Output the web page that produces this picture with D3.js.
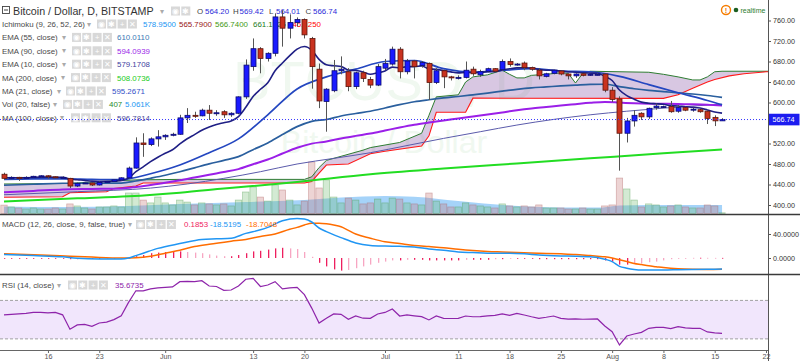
<!DOCTYPE html>
<html>
<head>
<meta charset="utf-8">
<script src="https://cdn.jsdelivr.net/npm/d3@7"></script>
<style>
  body { margin: 0; background: #fff; }
  svg { display: block; font-family: Arial, "Liberation Sans", sans-serif; }
</style>
</head>
<body>
<div id="chart"></div>
<script>
// BTC/USD daily, Bitstamp, 2016-05-10 .. 2016-08-16
const open = [460,452,454,452,454,456,457,455,453,452, 437,442,443,439,444,446,449,453,472,521,
  518,529,533,536,538,570,575,574,585,579, 582,576,579,611,670,705,686,696,767,745,
  756,762,725,665,602,623,662,660,631,658, 645,634,667,675,704,660,681,672,676,639,
  662,650,649,649,665,654,661,666,664,680, 674,677,668,663,651,657,661.5,655.6,652,656,
  655,655,655.6,624,607,540,564,579,572,590, 592,592,583,590,586,586,583,571,564.2];
const high = [463,456,455,456,457,458,458,456,456,453, 444,444,444,446,447,450,454,475,532,540,
  532,546,538,541,576,589,582,588,595,585, 585,581,612,684,725,708,698,774,780,772,
  766,764,728,676,628,683,690,667,660,662, 650,675,685,709,708,685,683,681,678,667,
  664,652,653,680,670,664,668,667,684,686, 677,680,670,667,658,664,663,656,657,657,
  656,657,657,630,612,570,585,581,590,598, 594,603,595,592,590,588,585,575,569.42];
const low = [449,450,447,451,453,454,451,452,452,433, 435,441,437,438,443,445,448,452,471,494,
  515,514,527,534,537,560,570,573,566,574, 570,572,577,607,662,657,680,690,709,725,
  748,725,627,589,543,620,655,622,626,640, 628,632,663,672,647,655,647,668,605,636,
  628,643,645,647,652,650,659,659,662,670, 672,663,662,645,649,655,653,645,648,651,
  652,653,620,601,467,522,553,566,568,586, 589,580,580,583,582,580,558,554,564.01];
const close = [452,454,453,454,456,457,455,453,454,437, 442,443,439,444,446,449,453,472,521,518,
  529,533,536,538,570,575,574,585,579,580, 576,579,611,673,705,686,696,767,745,756,
  762,732,670,603,626,662,665,631,658,647, 634,670,676,704,660,681,670,678,639,662,
  650,649,649,663,656,660,666,661,680,674, 675,668,665,652,656,663,655.6,652,655.6,653,
  655,655,624,606,540,564,575,572,588.7,593, 592,582,590,585,587,582,569,564.2,566.74];
// volume, thousands BTC
const volume = [5.0,3.9,3.3,2.7,3.3,2.7,2.7,3.3,2.7,5.7, 4.5,3.3,2.7,3.9,3.9,4.5,3.9,12.2,12.2,8.0,
  6.3,9.8,6.3,5.1,8.0,6.8,5.1,6.3,5.7,5.1, 5.7,4.5,8.0,12.8,15.8,9.8,7.4,17.0,14.0,8.0,
  5.1,7.4,30.7,15.2,20.0,9.8,6.3,9.2,8.0,5.7, 6.3,8.6,6.3,9.2,8.6,6.3,5.7,5.1,12.2,7.4,
  5.7,3.9,3.9,6.3,5.1,4.5,3.9,3.3,5.7,4.5, 3.9,4.5,3.9,5.1,3.3,3.3,3.3,2.7,2.7,3.3,
  2.7,2.7,4.5,5.1,21.1,14.6,8.0,3.9,5.7,5.1, 3.9,4.5,5.1,3.9,3.3,3.3,5.1,4.5,0.4];

// indicator lines, [days since 2016-05-10, value]
const ema10 = [453,453.2,453,453.2,453.7,454.3,454.4,454.1,454.1,450.9, 449.3,448.1,446.5,446.2,446.1,446.7,448,452.4,464.9,474.5,
  484.5,493.3,501.1,507.8,519.1,529.3,537.4,546,552,557.1, 560.5,564,572.5,590.7,611.8,625.8,638.6,662,677.1,691.4,
  704.2,709.3,702.2,684.2,673.7,671.6,670.4,663.3,662.3,659.6, 655.2,657.9,661.3,669.1,667.5,670,670,671.5,665.5,664.8,
  662.2,659.8,657.8,658.7,658.2,658.5,659.9,660.1,663.7,665.8, 667.5,667.7,667.2,664.4,662.9,662.9,661.5,659.8,659.1,657.9,
  657.4,657,651,643,624.3,613.3,606.4,600.7,598.5,597.5, 596.5,593.9,593.2,591.7,590.8,589.1,585.4,581.5,579.2].map((v, i) => [i, v]);
const ma21 = [[0,450],[4,451],[8,451],[12,450],[16,449.5],[20,461],[24,478],[28,502],[32,529],[36,576],[40,626.5],[44,650],
  [48,665],[52,680],[56,682],[60,666],[64,659],[68,662.5],[72,666],[76,661.5],[80,660],[84,651],[88,635],[92,619],[96,604],[98,595.3]];
const ema55 = [[0,438.5],[4,440.5],[8,442.4],[12,442.5],[16,442.8],[18,446.8],[20,452.2],[22,458],[24,464.8],[26,472.5],[28,480.2],
  [30,487],[32,494.3],[34,508],[36,520.9],[38,537.4],[40,552.9],[42,563.3],[44,566.9],[46,573.7],[48,578.6],[50,583],[52,589.3],
  [54,595.8],[56,601.4],[58,605.4],[60,608.9],[62,611.7],[64,615],[66,618.4],[68,622.1],[70,625.7],[72,628.6],[74,630.4],[76,632.4],
  [78,633.9],[80,635.3],[82,635.6],[84,631.1],[86,626.8],[88,623.6],[90,621.4],[92,618.9],[94,616.6],[96,613.7],[98,610]];
const ema90 = [[0,425],[4,427.5],[8,430.2],[12,431.3],[16,432.4],[18,435.2],[20,439.1],[22,443.3],[24,448.1],[26,453.6],[28,459.2],
  [30,464.3],[32,470],[34,479.6],[36,488.8],[38,500.4],[40,511.6],[42,519.8],[44,523.9],[46,529.9],[48,534.9],[50,539.5],[52,545.3],
  [54,551.2],[56,556.6],[58,561],[60,565.1],[62,568.8],[64,572.7],[66,576.6],[68,580.7],[70,584.8],[72,588.3],[74,591.2],[76,594.2],
  [78,596.8],[80,599.3],[82,601],[84,599.8],[86,598.5],[88,597.7],[90,597.5],[92,597],[94,596.5],[96,595.6],[98,594.1]];
const ma100 = [[0,420],[10,426],[20,433],[25,441],[30,452],[35,465],[40,480],[45,491],[50,502],[55,516],[60,530],[65,543],
  [70,556],[75,567],[80,576],[85,583],[90,589],[95,594],[98,596.8]];
const ma200 = [[0,407],[10,413],[17,417],[24,424],[30,432],[40,445],[50,460],[60,471],[70,481],[80,491],[90,501],[98,508.1]];
const senkouA = [[0,441],[9,442],[12,445],[18,449],[24,450],[41,450],[42,455],[43,473],[44,487],[46,495],[49,507],[50,512],[54,522],
  [57,540],[58,575],[59,611],[62,615],[63,640],[64,650],[66,654],[68,663],[69,655],[70,648],[71,648],[72,653],[74,655],[76,658],
  [77,657],[78,638],[79,657],[80,661],[88,659],[90,655],[92,650],[94,644],[95,644],[96,650],[97,660],[98,661],[106,661]];
const senkouB = [[0,415],[8,416],[9,424],[14,426],[15,432],[18,437],[19,443],[41,443],[42,446],[43,462],[44,478],[47,480],[50,500],
  [52,505],[57,515],[58,535],[59,581],[63,581],[64,608.5],[90,608],[92,615],[94,628],[96,640],[97,645],[99,652],[101,656],[104,660],[106,661]];
const volMA = [[0,4.2],[8,3.8],[17,4.5],[24,5.7],[33,6.8],[41,8.0],[46,9.5],[52,10.4],[56,10.0],[62,7.4],[69,4.8],[76,3.6],[81,3.5],
  [84,4.8],[88,5.1],[98,5.06]];

const macd = [[0,6],[4,4],[8,2],[10,-0.5],[13,-1.5],[16,-1.5],[17,0],[18,4],[19,8],[21,16],[24,24],[27,31],[29,32],[31,33],[33,41],
  [35,47],[36,51],[38,62],[40,66],[41,65],[42,60],[43,50],[44,44],[46,34],[48,25],[50,21],[52,20],[54,19.5],[56,18.5],[58,15],[60,13],
  [62,10],[64,9],[66,8],[69,8],[71,7],[73,5],[76,3.5],[78,3],[80,2],[81,1],[82,-2],[83,-6],[84,-14],[85,-17],[86,-19],[87,-20],
  [88,-20],[90,-20],[92,-19.5],[94,-19],[96,-18.8],[98,-18.52]];
const signal = [[0,7],[5,5],[9,3],[12,1.5],[16,0],[18,0.5],[20,3],[22,8],[24,13],[26,19],[28,23],[31,28],[33,31],[35,36],[37,40],
  [39,48],[40,51],[41,55],[42,58],[43,58],[44,57],[45,55],[46,52],[47,46],[48,40],[50,33],[52,27],[54,24],[56,21],[58,19],[60,17],
  [62,14.5],[64,12.5],[66,11],[68,10],[70,9],[73,8],[76,7],[78,6],[80,4],[81,3],[82,2],[83,0],[84,-3],[85,-6],[86,-9],[87,-11],
  [88,-13],[89,-14.5],[90,-16],[92,-18],[94,-18.8],[96,-19],[98,-18.7]];
const histogram = [-1,-1,-1,-1,-1,-1,-1,-1,-1,-2, -2,-1.5,-1.5,-1.5,-1,-1,-0.5,0.5,3,5,
  8,9,10,10,11,10,9,8,6,4, 3,3,5,8,11,12,14,16,17,16,
  15,10,2,-8,-14,-19,-21,-20,-17,-14, -11,-8,-6,-4,-4,-3,-3,-3,-4,-4,
  -4,-4,-4,-3,-3,-3,-3,-2,-2,-1, -1,-1,-1,-2,-2,-2,-2,-2,-2,-2,
  -2,-2,-4,-6,-11,-11,-10,-9,-7,-6, -4,-2,-1,-0.5,0.3,0.4,0.3,0.2,0.2];
const rsi = [55,55.5,56,56.5,57.5,57.6,57,57.5,55,40, 44.5,45,43,46.5,47.5,50,54,68,80,80,
  82,83,83.5,84,89.5,89.8,89.5,90.5,85,84.5, 80.5,80.8,85,92,93,84.5,86,89.5,82,83,
  83.6,76,62,46.5,51.5,55.9,55.5,50.4,53.8,51.5, 51.4,55.9,57.5,61,53.8,55,54,53.1,49.7,53.8,
  51.4,51.2,51.4,53.8,53,53.1,54,54.5,56,54.5, 56.6,54.8,53,51.4,52.5,53.8,51.4,50.6,50.8,50.4,
  50.5,50.7,43.4,37.5,23.7,33,35.1,36.8,41,42, 42,40.6,42.7,41.5,41,41,37.2,36.3,35.67];

const priceTicks = [400, 440, 480, 520, 600, 640, 680, 720, 760];
const macdTicks = [0, 40];
const rsiTicks = [20, 40, 60, 80];
const timeTickDays = ['2016-05-16','2016-05-23','2016-06-01','2016-06-13','2016-06-20','2016-07-01','2016-07-11',
  '2016-07-18','2016-07-25','2016-08-01','2016-08-08','2016-08-15','2016-08-22'];
const timeTickLabels = ['16','23','Jun','13','20','Jul','11','18','25','Aug','8','15','22'];

const studyNames = ['Ichimoku (9, 26, 52, 26)','EMA (55, close)','EMA (90, close)','EMA (10, close)','MA (200, close)',
  'MA (21, close)','Vol (20, false)','MA (100, close)'];
const studyValues = [['578.9500','565.7900','566.7400','661.1725','646.1250'],['610.0110'],['594.0939'],['579.1708'],
  ['508.0736'],['595.2671'],['407','5.061K'],['596.7814']];
const ohlcLabels = ['O','H','L','C'];
const ohlcValues = ['564.20','569.42','564.01','566.74'];
const lastPrice = 566.74;

// ---------- layout ----------
const W = 800, H = 361, plotR = 768;
const svg = d3.select('#chart').append('svg').attr('width', W).attr('height', H);

const day0 = new Date(Date.UTC(2016, 4, 10));
const days = d3.utcDay.range(day0, new Date(Date.UTC(2016, 7, 17)));
const x = d3.scaleUtc()
  .domain([day0, new Date(Date.UTC(2016, 7, 22))])
  .range([4, 766]);
const xAt = i => x(d3.utcDay.offset(day0, i));

const y = d3.scaleLinear().domain([400, 760]).range([205, 20.5]);
const yVol = d3.scaleLinear().domain([0, 30]).range([213.5, 163.1]);
const yMacd = d3.scaleLinear().domain([0, 40]).range([258, 234]);
const yRsi = d3.scaleLinear().domain([20, 80]).range([348.5, 290.8]);

const defs = svg.append('defs');
const clip = (id, x0, y0, w, h) => defs.append('clipPath').attr('id', id)
  .append('rect').attr('x', x0).attr('y', y0).attr('width', w).attr('height', h);
clip('cMain', 0, 0, plotR, 214);
clip('cMacd', 0, 215, plotR, 59);
clip('cRsi', 0, 275, plotR, 75);
clip('cRsiAx', plotR, 275, 40, 75);

const FONT = 7.9, AXFONT = 7.2;

// ---------- main panel ----------
const main = svg.append('g').attr('clip-path', 'url(#cMain)');

// watermark
main.append('text').attr('x', 384).attr('y', 100).attr('text-anchor', 'middle')
  .attr('font-size', 56).attr('fill', '#f0f8f0').text('BTCUSD, D');
main.append('text').attr('x', 384).attr('y', 153).attr('text-anchor', 'middle')
  .attr('font-size', 32).attr('fill', '#f0f8f0').text('Bitcoin / Dollar');

// legend (under the series)
const legend = svg.append('g').attr('font-size', FONT);
const iconGlyphs = ['\u25C9', '\u2731', '+', '\u2715'];
function icons(g, x0, yc, n) {
  for (let k = 0; k < n; k++) {
    const ix = x0 + k * 10.3;
    g.append('rect').attr('x', ix).attr('y', yc - 4.5).attr('width', 9).attr('height', 9).attr('fill', '#d8d8d8');
    g.append('text').attr('x', ix + 4.5).attr('y', yc + 2.8).attr('text-anchor', 'middle')
      .attr('font-size', 7.5).attr('fill', '#fff').text(iconGlyphs[k]);
  }
}
// title row
legend.append('rect').attr('x', 2.5).attr('y', 6.5).attr('width', 7).attr('height', 7)
  .attr('fill', 'none').attr('stroke', '#444').attr('stroke-width', 0.9);
legend.append('line').attr('x1', 4).attr('x2', 8).attr('y1', 10).attr('y2', 10).attr('stroke', '#444');
legend.append('text').attr('x', 13).attr('y', 14.8).attr('font-size', 10.7).attr('fill', '#333')
  .text('Bitcoin / Dollar, D, BITSTAMP');
legend.append('text').attr('x', 160).attr('y', 13.5).attr('fill', '#aaa').text('\u25BE');
icons(legend, 171, 11, 2);
const ohlcX = [[197, 205], [233, 239.5], [269, 276], [305.5, 313]];
ohlcLabels.forEach((l, k) => {
  legend.append('text').attr('x', ohlcX[k][0]).attr('y', 13.9).attr('fill', '#444').text(l);
  legend.append('text').attr('x', ohlcX[k][1]).attr('y', 13.9).attr('fill', '#2b2bd9').text(ohlcValues[k]);
});
// study rows
const rowLayout = [
  {arrow: 87, icon: 97, vx: [143, 179, 215, 253, 288], col: ['#2196f3', '#991515', '#459915', '#1b7a1b', '#ff0000']},
  {arrow: 62, icon: 72, vx: [117], col: ['#3a78b5']},
  {arrow: 62, icon: 72, vx: [117], col: ['#9b1fe8']},
  {arrow: 62, icon: 72, vx: [117], col: ['#4242a0']},
  {arrow: 61, icon: 71, vx: [117], col: ['#22cc22']},
  {arrow: 57, icon: 66, vx: [112], col: ['#3350c8']},
  {arrow: 53, icon: 63, vx: [109, 125], col: ['#2a8a2a', '#2196f3']},
  {arrow: 60, icon: 71, vx: [117], col: ['#4b4b9b']}
];
studyNames.forEach((name, r) => {
  const yc = 24 + r * 13.4, L = rowLayout[r];
  legend.append('text').attr('x', 2).attr('y', yc + 2.9).attr('fill', '#4a4a4a').text(name);
  legend.append('text').attr('x', L.arrow).attr('y', yc + 2.6).attr('fill', '#aaa').text('\u25BE');
  icons(legend, L.icon, yc, 4);
  studyValues[r].forEach((v, k) => {
    legend.append('text').attr('x', L.vx[k]).attr('y', yc + 2.9).attr('fill', L.col[k]).text(v);
  });
});

// realtime badge
svg.append('circle').attr('cx', 726).attr('cy', 10).attr('r', 4.5).attr('fill', '#fff')
  .attr('stroke', '#f57c00').attr('stroke-width', 1.4);
svg.append('text').attr('x', 726).attr('y', 12.8).attr('text-anchor', 'middle').attr('font-size', 7.5)
  .attr('font-weight', 'bold').attr('fill', '#f57c00').text('!');
svg.append('circle').attr('cx', 736).attr('cy', 10).attr('r', 2.3).attr('fill', '#1b5e20');
svg.append('text').attr('x', 740.5).attr('y', 12.6).attr('font-size', 7).attr('fill', '#2e7d32').text('realtime');

const series = svg.append('g').attr('clip-path', 'url(#cMain)');

// volume moving average + bars
series.append('path').datum(volMA)
  .attr('d', d3.area().x(p => xAt(p[0])).y0(yVol(0)).y1(p => yVol(p[1])).curve(d3.curveMonotoneX))
  .attr('fill', 'rgba(40,150,240,0.42)');
const vbw = 6.4;
series.selectAll('rect.vol').data(days).enter().append('rect').attr('class', 'vol')
  .attr('x', (d, i) => x(d) - vbw / 2)
  .attr('y', (d, i) => yVol(volume[i]))
  .attr('width', vbw)
  .attr('height', (d, i) => yVol(0) - yVol(volume[i]))
  .attr('fill', (d, i) => close[i] >= open[i] ? 'rgba(110,185,110,0.3)' : 'rgba(200,120,120,0.32)')
  .attr('stroke', (d, i) => close[i] >= open[i] ? 'rgba(70,150,70,0.45)' : 'rgba(170,90,90,0.45)')
  .attr('stroke-width', 0.7);

// ichimoku cloud
const cloudIdx = d3.range(0, 107);
const interp = arr => i => {
  const k = d3.bisector(p => p[0]).right(arr, i);
  if (k <= 0) return arr[0][1];
  if (k >= arr.length) return arr[arr.length - 1][1];
  const a = arr[k - 1], b = arr[k];
  return a[1] + (b[1] - a[1]) * (i - a[0]) / (b[0] - a[0]);
};
const sA = interp(senkouA), sB = interp(senkouB);
series.append('path').datum(cloudIdx)
  .attr('d', d3.area().x(i => xAt(i)).y0(i => y(sB(i))).y1(i => y(sA(i))))
  .attr('fill', 'rgba(125,70,160,0.3)');
const lineOf = (yS, curve) => d3.line().x(p => xAt(p[0])).y(p => yS(p[1])).curve(curve || d3.curveLinear);
series.append('path').datum(senkouA).attr('d', lineOf(y)).attr('fill', 'none').attr('stroke', '#2e7d32').attr('stroke-width', 1);
series.append('path').datum(senkouB).attr('d', lineOf(y)).attr('fill', 'none').attr('stroke', '#ff1a1a').attr('stroke-width', 1.1);

// moving averages
const maSpecs = [
  [ma200, '#22dd22', 2],
  [ma100, '#5b5bab', 1],
  [ema90, '#9b1fe8', 2],
  [ema55, '#2a5f9e', 1.7],
  [ma21, '#2447c0', 1.7],
  [ema10, '#1f1f85', 1.6]
];
maSpecs.forEach(([data, col, w]) => {
  series.append('path').datum(data).attr('d', lineOf(y, d3.curveMonotoneX))
    .attr('fill', 'none').attr('stroke', col).attr('stroke-width', w);
});

// candles
const cw = 5;
const candle = series.selectAll('g.c').data(days).enter().append('g').attr('class', 'c');
candle.append('line')
  .attr('x1', d => Math.round(x(d)) + 0.5).attr('x2', d => Math.round(x(d)) + 0.5)
  .attr('y1', (d, i) => y(high[i])).attr('y2', (d, i) => y(low[i]))
  .attr('stroke', '#555').attr('stroke-width', 1);
candle.append('rect')
  .attr('x', d => Math.round(x(d)) + 0.5 - cw / 2)
  .attr('y', (d, i) => y(Math.max(open[i], close[i])))
  .attr('width', cw)
  .attr('height', (d, i) => Math.max(1, y(Math.min(open[i], close[i])) - y(Math.max(open[i], close[i]))))
  .attr('fill', (d, i) => close[i] >= open[i] ? '#1a1aff' : '#c9321f')
  .attr('stroke', (d, i) => close[i] >= open[i] ? '#0c0c70' : '#5e160c')
  .attr('stroke-width', 0.8);

// last price line
svg.append('line').attr('x1', 0).attr('x2', plotR).attr('y1', y(lastPrice)).attr('y2', y(lastPrice))
  .attr('stroke', '#3535ff').attr('stroke-dasharray', '1,2').attr('stroke-width', 1);

// ---------- MACD panel ----------
const gm = svg.append('g').attr('clip-path', 'url(#cMacd)');
gm.selectAll('rect').data(days).enter().append('rect')
  .attr('x', d => Math.round(x(d)))
  .attr('y', (d, i) => Math.min(yMacd(0), yMacd(histogram[i])))
  .attr('width', 1.3)
  .attr('height', (d, i) => Math.max(0.8, Math.abs(yMacd(histogram[i]) - yMacd(0))))
  .attr('fill', (d, i) => (i > 0 && Math.abs(histogram[i]) < Math.abs(histogram[i - 1])) ? '#f7a6c2' : '#ee1f5f');
gm.append('path').datum(signal).attr('d', lineOf(yMacd, d3.curveMonotoneX))
  .attr('fill', 'none').attr('stroke', '#ff6d00').attr('stroke-width', 1.5);
gm.append('path').datum(macd).attr('d', lineOf(yMacd, d3.curveMonotoneX))
  .attr('fill', 'none').attr('stroke', '#2196f3').attr('stroke-width', 1.5);

const macdLeg = svg.append('g').attr('font-size', FONT);
macdLeg.append('text').attr('x', 2).attr('y', 227.4).attr('fill', '#4a4a4a').text('MACD (12, 26, close, 9, false, true)');
macdLeg.append('text').attr('x', 127.5).attr('y', 227.1).attr('fill', '#aaa').text('\u25BE');
icons(macdLeg, 136, 224.5, 4);
[['0.1853', 184, '#f0245f'], ['-18.5195', 210, '#2196f3'], ['-18.7048', 246, '#ff6d00']].forEach(([t, xx, c]) => {
  macdLeg.append('text').attr('x', xx).attr('y', 227.4).attr('fill', c).text(t);
});

// ---------- RSI panel ----------
const gr = svg.append('g').attr('clip-path', 'url(#cRsi)');
gr.append('rect').attr('x', 0).attr('width', plotR).attr('y', yRsi(70)).attr('height', yRsi(30) - yRsi(70))
  .attr('fill', 'rgba(150,60,230,0.13)');
[70, 30].forEach(v => gr.append('line').attr('x1', 0).attr('x2', plotR).attr('y1', yRsi(v)).attr('y2', yRsi(v))
  .attr('stroke', '#999').attr('stroke-dasharray', '3,2').attr('stroke-width', 0.9));
gr.append('path').datum(rsi)
  .attr('d', d3.line().x((v, i) => x(days[i])).y(v => yRsi(v)))
  .attr('fill', 'none').attr('stroke', '#8e24aa').attr('stroke-width', 1.2);

const rsiLeg = svg.append('g').attr('font-size', FONT);
rsiLeg.append('text').attr('x', 2).attr('y', 287.9).attr('fill', '#4a4a4a').text('RSI (14, close)');
rsiLeg.append('text').attr('x', 57).attr('y', 287.6).attr('fill', '#aaa').text('\u25BE');
icons(rsiLeg, 68, 285, 4);
rsiLeg.append('text').attr('x', 115).attr('y', 287.9).attr('fill', '#8e24aa').text('35.6735');

// ---------- axes ----------
function styleAxis(g) {
  g.select('.domain').remove();
  g.selectAll('.tick line').attr('stroke', '#555');
  g.selectAll('.tick text').attr('fill', '#333').attr('font-size', AXFONT).attr('font-family', null);
}
svg.append('g').attr('transform', `translate(${plotR},0)`)
  .call(d3.axisRight(y).tickValues(priceTicks).tickFormat(d3.format('.2f')).tickSize(3).tickPadding(2))
  .call(styleAxis);
svg.append('g').attr('transform', `translate(${plotR},0)`)
  .call(d3.axisRight(yMacd).tickValues(macdTicks).tickFormat(d3.format('.4f')).tickSize(3).tickPadding(2))
  .call(styleAxis);
svg.append('g').attr('transform', `translate(${plotR},0)`).attr('clip-path', 'url(#cRsiAx)')
  .call(d3.axisRight(yRsi).tickValues(rsiTicks).tickFormat(d3.format('.4f')).tickSize(3).tickPadding(2))
  .call(styleAxis);

// last price tag
svg.append('rect').attr('x', 768.5).attr('y', y(lastPrice) - 5.8).attr('width', 31).attr('height', 11.6).attr('fill', '#1c1cf0');
svg.append('text').attr('x', 772.5).attr('y', y(lastPrice) + 2.6).attr('font-size', AXFONT).attr('fill', '#fff')
  .text(d3.format('.2f')(lastPrice));

// time axis
const parseDay = d3.utcParse('%Y-%m-%d');
const xAxis = svg.append('g').attr('transform', 'translate(0,350.5)')
  .call(d3.axisBottom(x).tickValues(timeTickDays.map(parseDay))
    .tickFormat((d, k) => timeTickLabels[k]).tickSize(2.5).tickPadding(0.5));
xAxis.select('.domain').remove();
xAxis.selectAll('.tick line').attr('stroke', '#666');
xAxis.selectAll('.tick text').attr('fill', '#555').attr('font-size', AXFONT).attr('font-family', null);

// frame lines
svg.append('line').attr('x1', plotR + 0.5).attr('x2', plotR + 0.5).attr('y1', 0).attr('y2', H).attr('stroke', '#555');
[214.5, 274.5].forEach(yy => svg.append('line').attr('x1', 0).attr('x2', W).attr('y1', yy).attr('y2', yy)
  .attr('stroke', '#3a3a3a').attr('stroke-width', 1.5));
svg.append('line').attr('x1', 0).attr('x2', plotR).attr('y1', 350.5).attr('y2', 350.5).attr('stroke', '#666');
</script>
</body>
</html>
